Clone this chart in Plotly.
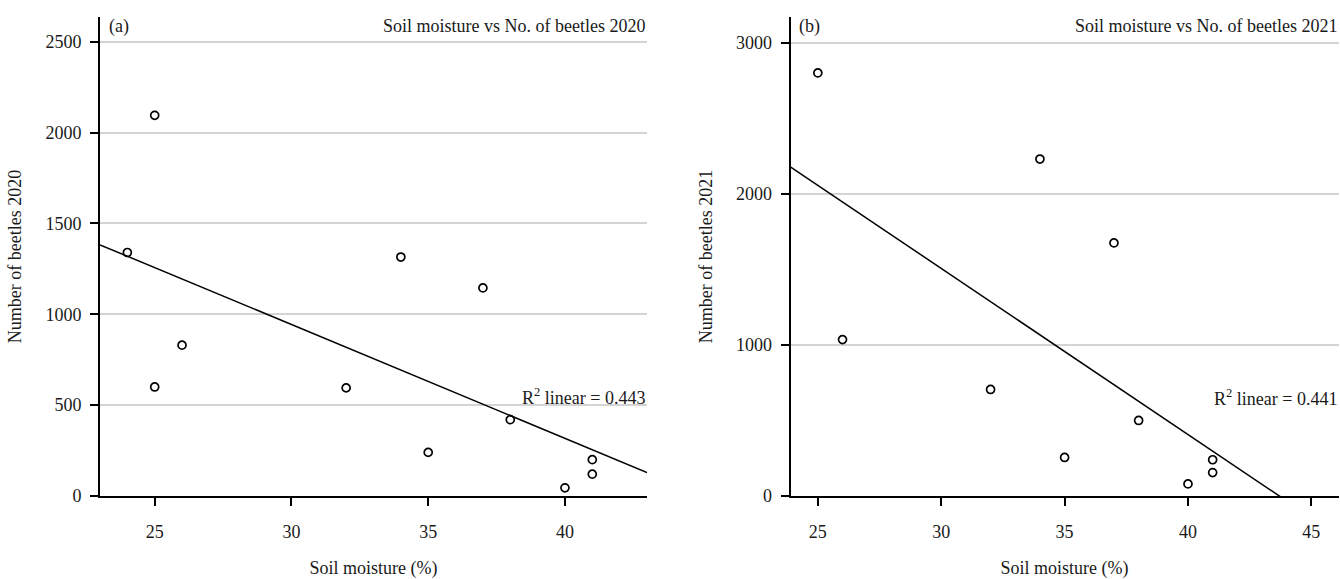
import numpy as np
import plotly.graph_objects as go

# ---- data ----
moisture_2020 = [24, 25, 25, 26, 32, 34, 37, 35, 38, 40, 41, 41]
beetles_2020 = [1340, 2095, 600, 830, 595, 1315, 1145, 240, 420, 45, 200, 120]
moisture_2021 = [25, 34, 37, 26, 32, 38, 35, 41, 41, 40]
beetles_2021 = [2800, 2230, 1675, 1035, 705, 500, 255, 240, 155, 80]
r2_2020 = 0.443
r2_2021 = 0.441
x_ticks_a = [25, 30, 35, 40]
x_ticks_b = [25, 30, 35, 40, 45]
y_ticks_a = [0, 500, 1000, 1500, 2000, 2500]
y_ticks_b = [0, 1000, 2000, 3000]
x_range_a = [23, 43]
x_range_b = [23.9, 46.1]
y_range_a = [0, 2636]
y_range_b = [0, 3170]

FONT = "Liberation Serif"
FS = 18
TXT = "#1a1a1a"

fig = go.Figure()


def fit_line(x, y, xr):
    b1, b0 = np.polyfit(x, y, 1)
    xs = np.array(xr)
    return xs, b0 + b1 * xs


for (mx, by, xr, xa, ya) in [
    (moisture_2020, beetles_2020, x_range_a, "x", "y"),
    (moisture_2021, beetles_2021, x_range_b, "x2", "y2"),
]:
    lx, ly = fit_line(mx, by, xr)
    fig.add_trace(go.Scatter(x=lx, y=ly, mode="lines",
                             line=dict(color="black", width=1.5),
                             xaxis=xa, yaxis=ya, showlegend=False, hoverinfo="skip"))
    fig.add_trace(go.Scatter(x=mx, y=by, mode="markers",
                             marker=dict(symbol="circle-open", size=8, color="black",
                                         line=dict(width=1.7, color="black")),
                             xaxis=xa, yaxis=ya, showlegend=False, cliponaxis=False))

common_x = dict(showgrid=False, zeroline=False, showline=True, linecolor="black",
                linewidth=2, ticks="outside", ticklen=8, tickwidth=1.5, tickcolor="black",
                tickfont=dict(family=FONT, size=FS, color=TXT), ticklabelstandoff=10,
                title=dict(text="Soil moisture (%)", font=dict(family=FONT, size=FS, color=TXT),
                           standoff=25))
common_y = dict(showgrid=True, gridcolor="#d4d4d4", gridwidth=1.5, zeroline=False,
                showline=True, linecolor="black", linewidth=2, ticks="outside",
                ticklen=8, tickwidth=1.5, tickcolor="black",
                tickfont=dict(family=FONT, size=FS, color=TXT), ticklabelstandoff=5)

fig.update_layout(
    width=1340, height=579,
    margin=dict(l=0, r=0, t=17, b=79),
    paper_bgcolor="white", plot_bgcolor="white",
    xaxis=dict(common_x, domain=[100 / 1340, 647 / 1340], range=x_range_a,
               tickvals=x_ticks_a, anchor="y"),
    yaxis=dict(common_y, range=y_range_a, tickvals=y_ticks_a, anchor="x",
               title=dict(text="Number of beetles 2020", font=dict(family=FONT, size=FS, color=TXT),
                          standoff=19)),
    xaxis2=dict(common_x, domain=[790.7 / 1340, 1338.5 / 1340], range=x_range_b,
                tickvals=x_ticks_b, anchor="y2"),
    yaxis2=dict(common_y, range=y_range_b, tickvals=y_ticks_b, anchor="x2",
                title=dict(text="Number of beetles 2021", font=dict(family=FONT, size=FS, color=TXT),
                           standoff=19)),
)

ann_font = dict(family=FONT, size=FS, color=TXT)
for xref, yref, lab, title in [
    ("x domain", "y domain", "(a)", "Soil moisture vs No. of beetles 2020"),
    ("x2 domain", "y2 domain", "(b)", "Soil moisture vs No. of beetles 2021"),
]:
    fig.add_annotation(xref=xref, yref=yref, x=0.012, y=1.0, text=lab, showarrow=False,
                       xanchor="left", yanchor="top", yshift=3, font=ann_font)
    fig.add_annotation(xref=xref, yref=yref, x=1.0, y=1.0, text=title, showarrow=False,
                       xanchor="right", yanchor="top", yshift=3, font=ann_font)

fig.add_annotation(xref="x domain", yref="y", x=1.0, y=546, text=f"R<sup>2</sup> linear = {r2_2020}",
                   showarrow=False, xanchor="right", yanchor="middle", font=ann_font)
fig.add_annotation(xref="x2 domain", yref="y2", x=1.0, y=649, text=f"R<sup>2</sup> linear = {r2_2021}",
                   showarrow=False, xanchor="right", yanchor="middle", font=ann_font)

fig.write_html("out.html", config={"displayModeBar": False},
               post_script="document.body.style.margin='0';document.body.style.overflow='hidden';")
